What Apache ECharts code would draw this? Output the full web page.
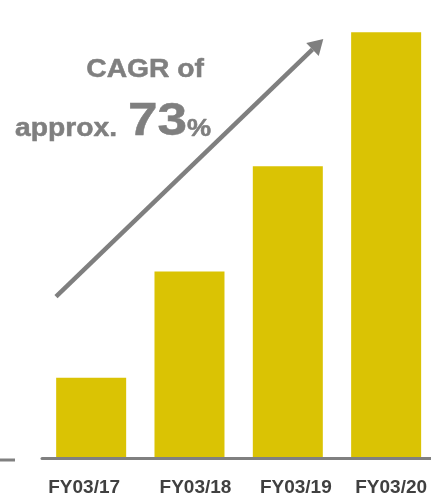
<!DOCTYPE html>
<html>
<head>
<meta charset="utf-8">
<style>
  html, body { margin: 0; padding: 0; background: #ffffff; overflow: hidden; }
  /* the plot runs a few pixels past the right edge of the window */
  #chart { width: 436px; height: 497px; }
</style>
<script src="https://cdn.jsdelivr.net/npm/echarts@6/dist/echarts.min.js"></script>
</head>
<body>
<div id="chart"></div>
<script>
// Fiscal years on the category axis
const categories = ['FY03/17', 'FY03/18', 'FY03/19', 'FY03/20'];
// Growth index, FY03/17 = 100
const values = [100, 232, 363, 530];
// Headline figure for the compound annual growth rate
const cagrLines = ['CAGR of', 'approx.'];
const cagrValue = '73';
const cagrUnit = '%';

const GRAY = '#7f7f7f';
const BAR = '#dac304';
const FONT = '"Liberation Sans", Arial, sans-serif';
const SX = 1.13;
// horizontal nudge of each axis label, px
const labelShift = [-7, 6, 8, 5];

const chart = echarts.init(document.getElementById('chart'), null, { renderer: 'canvas' });

// Arrow geometry: tail, tip and head size
const tail = [56, 296.7];
const tip = [323.3, 39];
const headLen = 15, headHalf = 9;
const dx = tip[0] - tail[0], dy = tip[1] - tail[1];
const len = Math.hypot(dx, dy);
const ux = dx / len, uy = dy / len;
const bx = tip[0] - headLen * ux, by = tip[1] - headLen * uy;
const px = -uy, py = ux;

function label(text, x, y, size, align) {
  return {
    type: 'text',
    x: x, y: y, scaleX: SX,
    style: {
      text: text, x: 0, y: 0,
      align: align, verticalAlign: 'middle',
      fill: GRAY, stroke: GRAY, lineWidth: 0.5,
      font: 'bold ' + size + 'px ' + FONT
    }
  };
}

const rich = {};
labelShift.forEach(function (s, i) {
  rich['s' + i] = {
    color: '#404040',
    fontFamily: FONT,
    fontWeight: 'bold',
    fontSize: 19,
    lineHeight: 19,
    padding: s >= 0 ? [0, 0, 0, 2 * s] : [0, -2 * s, 0, 0]
  };
});

chart.setOption({
  animation: false,
  backgroundColor: '#ffffff',
  grid: { left: 42, top: 0, right: 0.7, bottom: 37, containLabel: false },
  xAxis: {
    type: 'category',
    data: categories,
    z: 3,
    axisLine: { show: true, lineStyle: { color: '#808080', width: 3 } },
    axisTick: { show: false },
    axisLabel: {
      interval: 0,
      hideOverlap: false,
      margin: 20,
      color: '#404040',
      fontFamily: FONT,
      fontWeight: 'bold',
      fontSize: 19,
      lineHeight: 19,
      formatter: function (v, i) { return '{s' + i + '|' + v + '}'; },
      rich: rich
    }
  },
  yAxis: {
    type: 'value',
    min: 0,
    max: 570,
    show: false,
    splitLine: { show: false }
  },
  series: [{
    type: 'bar',
    data: values,
    barWidth: 70,
    itemStyle: { color: BAR },
    silent: true
  }],
  graphic: [
    // short stub of the baseline at the far left
    {
      type: 'line',
      shape: { x1: 0, y1: 460, x2: 15, y2: 460 },
      style: { stroke: '#808080', lineWidth: 3 }
    },
    // growth arrow
    {
      type: 'line',
      shape: { x1: tail[0], y1: tail[1], x2: bx, y2: by },
      style: { stroke: GRAY, lineWidth: 4.5, lineCap: 'butt' }
    },
    {
      type: 'polygon',
      shape: {
        points: [
          [tip[0], tip[1]],
          [bx + headHalf * px, by + headHalf * py],
          [bx - headHalf * px, by - headHalf * py]
        ]
      },
      style: { fill: GRAY }
    },
    // CAGR annotation
    label(cagrLines[0], 204, 70.6, 25, 'right'),
    label(cagrLines[1], 15, 129.6, 25, 'left'),
    label(cagrValue, 128, 122.4, 47, 'left'),
    label(cagrUnit, 187, 129.7, 24, 'left')
  ]
});
</script>
</body>
</html>
